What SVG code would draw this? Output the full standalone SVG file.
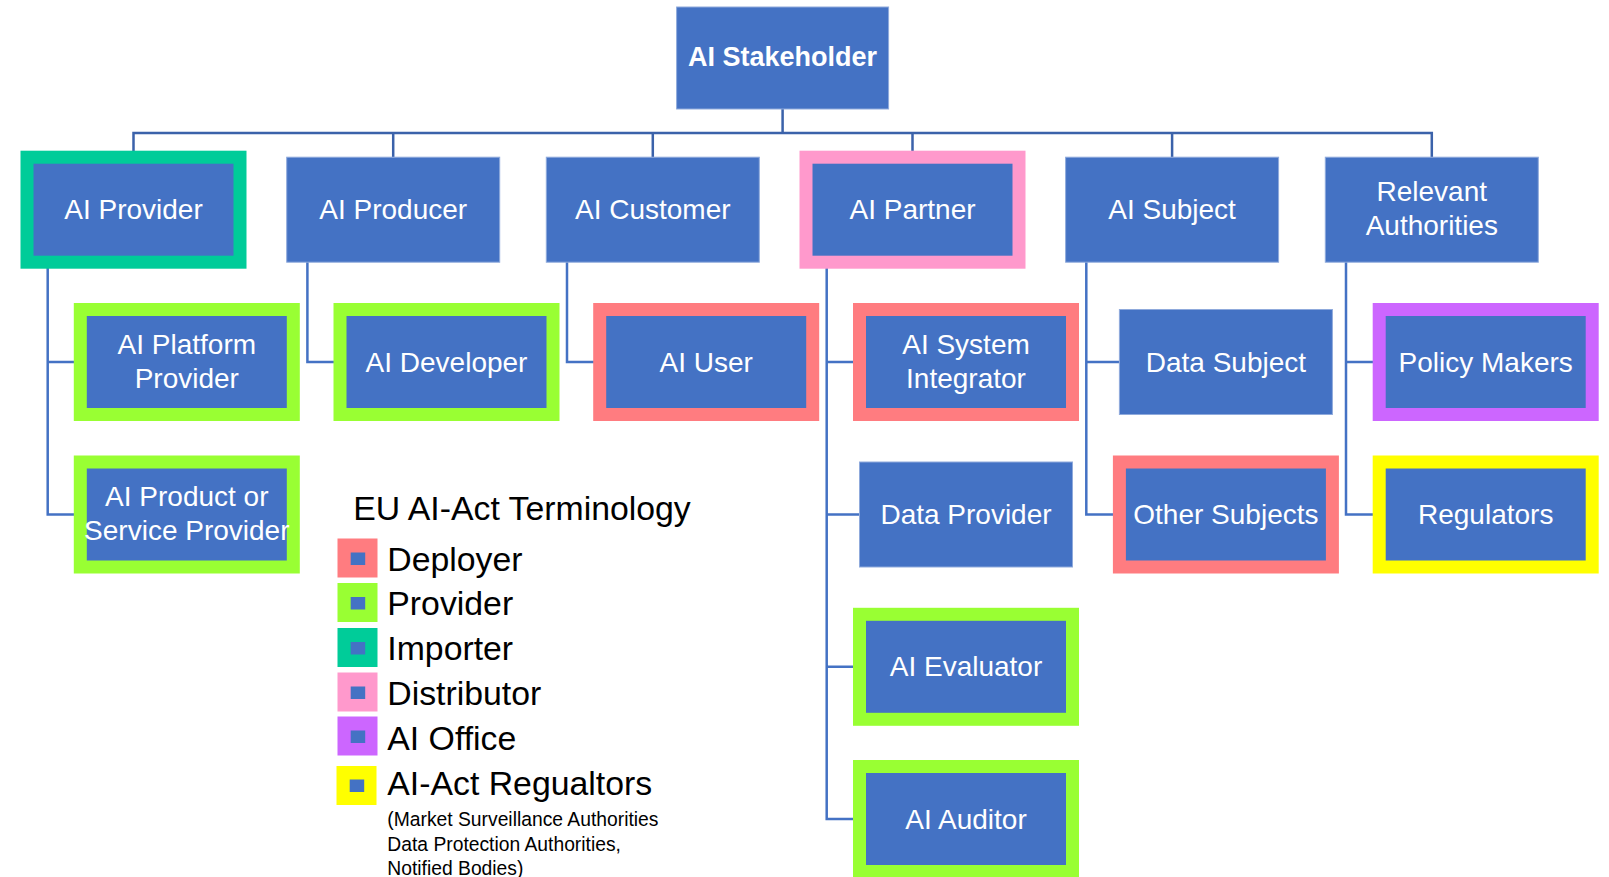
<svg xmlns="http://www.w3.org/2000/svg" width="1609" height="877" viewBox="0 0 1609 877">
  <style>
    .box { fill: #4472C4; stroke: #8FAADC; stroke-width: 1; }
    .rim { fill: #4472C4; stroke-width: 13; }
    .importer { stroke: #00CC99; }
    .provider { stroke: #99FF33; }
    .deployer { stroke: #FF7C80; }
    .distributor { stroke: #FF99CC; }
    .office { stroke: #CC66FF; }
    .regulator { stroke: #FFFF00; }
    .lbl { font-family: "Liberation Sans", Arial, sans-serif; font-size: 28px; fill: #FFFFFF; text-anchor: middle; }
    .root { font-weight: bold; font-size: 27px; }
    .wire { fill: none; stroke: #4472C4; stroke-width: 2.5; }
    .bus { fill: none; stroke: #3B62AA; stroke-width: 2.5; }
    .swin { fill: #4472C4; }
    .key { font-family: "Liberation Sans", Arial, sans-serif; fill: #000000; }
    .keyhead { font-size: 33.8px; }
    .keyitem { font-size: 33.8px; }
    .keynote { font-size: 19.3px; }
  </style>

  <!-- connectors -->
  <g id="connectors">
    <!-- root to top row -->
    <path class="bus" d="M782.6 109 V133 M133.5 157 V133 H1431.8 V157 M393.2 133 V157 M652.8 133 V157 M912.5 133 V157 M1172.1 133 V157"/>
    <!-- AI Provider children -->
    <path class="wire" d="M47.7 262 V514.5 H80.3 M47.7 362 H80.3"/>
    <!-- AI Producer children -->
    <path class="wire" d="M307.4 262 V362 H340"/>
    <!-- AI Customer children -->
    <path class="wire" d="M567 262 V362 H599.7"/>
    <!-- AI Partner children -->
    <path class="wire" d="M826.7 262 V819 H859.5 M826.7 362 H859.5 M826.7 514.5 H859.5 M826.7 666.8 H859.5"/>
    <!-- AI Subject children -->
    <path class="wire" d="M1086.3 262 V514.5 H1119.4 M1086.3 362 H1119.4"/>
    <!-- Relevant Authorities children -->
    <path class="wire" d="M1346 262 V514.5 H1379.2 M1346 362 H1379.2"/>
  </g>

  <!-- root -->
  <g id="ai-stakeholder">
    <rect class="box" x="676.6" y="7" width="212" height="102"/>
    <text class="lbl root" x="782.6" y="66">AI Stakeholder</text>
  </g>

  <!-- top row -->
  <g id="ai-provider">
    <rect class="rim importer" x="27" y="157.2" width="213" height="105"/>
    <text class="lbl" x="133.5" y="219">AI Provider</text>
  </g>
  <g id="ai-producer">
    <rect class="box" x="286.7" y="157.2" width="213" height="105"/>
    <text class="lbl" x="393.2" y="219">AI Producer</text>
  </g>
  <g id="ai-customer">
    <rect class="box" x="546.3" y="157.2" width="213" height="105"/>
    <text class="lbl" x="652.8" y="219">AI Customer</text>
  </g>
  <g id="ai-partner">
    <rect class="rim distributor" x="806" y="157.2" width="213" height="105"/>
    <text class="lbl" x="912.5" y="219">AI Partner</text>
  </g>
  <g id="ai-subject">
    <rect class="box" x="1065.6" y="157.2" width="213" height="105"/>
    <text class="lbl" x="1172.1" y="219">AI Subject</text>
  </g>
  <g id="relevant-authorities">
    <rect class="box" x="1325.3" y="157.2" width="213" height="105"/>
    <text class="lbl" x="1431.8" y="201">Relevant</text>
    <text class="lbl" x="1431.8" y="235">Authorities</text>
  </g>

  <!-- AI Provider branch -->
  <g id="ai-platform-provider">
    <rect class="rim provider" x="80.3" y="309.5" width="213" height="105"/>
    <text class="lbl" x="186.8" y="353.5">AI Platform</text>
    <text class="lbl" x="186.8" y="387.5">Provider</text>
  </g>
  <g id="ai-product-service-provider">
    <rect class="rim provider" x="80.3" y="462" width="213" height="105"/>
    <text class="lbl" x="186.8" y="506">AI Product or</text>
    <text class="lbl" x="186.8" y="540">Service Provider</text>
  </g>

  <!-- AI Producer branch -->
  <g id="ai-developer">
    <rect class="rim provider" x="340" y="309.5" width="213" height="105"/>
    <text class="lbl" x="446.5" y="371.5">AI Developer</text>
  </g>

  <!-- AI Customer branch -->
  <g id="ai-user">
    <rect class="rim deployer" x="599.7" y="309.5" width="213" height="105"/>
    <text class="lbl" x="706.2" y="371.5">AI User</text>
  </g>

  <!-- AI Partner branch -->
  <g id="ai-system-integrator">
    <rect class="rim deployer" x="859.5" y="309.5" width="213" height="105"/>
    <text class="lbl" x="966" y="353.5">AI System</text>
    <text class="lbl" x="966" y="387.5">Integrator</text>
  </g>
  <g id="data-provider">
    <rect class="box" x="859.5" y="462" width="213" height="105"/>
    <text class="lbl" x="966" y="524">Data Provider</text>
  </g>
  <g id="ai-evaluator">
    <rect class="rim provider" x="859.5" y="614.3" width="213" height="105"/>
    <text class="lbl" x="966" y="676.3">AI Evaluator</text>
  </g>
  <g id="ai-auditor">
    <rect class="rim provider" x="859.5" y="766.5" width="213" height="105"/>
    <text class="lbl" x="966" y="828.5">AI Auditor</text>
  </g>

  <!-- AI Subject branch -->
  <g id="data-subject">
    <rect class="box" x="1119.4" y="309.5" width="213" height="105"/>
    <text class="lbl" x="1225.9" y="371.5">Data Subject</text>
  </g>
  <g id="other-subjects">
    <rect class="rim deployer" x="1119.4" y="462" width="213" height="105"/>
    <text class="lbl" x="1225.9" y="524">Other Subjects</text>
  </g>

  <!-- Relevant Authorities branch -->
  <g id="policy-makers">
    <rect class="rim office" x="1379.2" y="309.5" width="213" height="105"/>
    <text class="lbl" x="1485.7" y="371.5">Policy Makers</text>
  </g>
  <g id="regulators">
    <rect class="rim regulator" x="1379.2" y="462" width="213" height="105"/>
    <text class="lbl" x="1485.7" y="524">Regulators</text>
  </g>

  <!-- role key -->
  <g id="legend">
    <text class="key keyhead" x="353.3" y="520">EU AI-Act Terminology</text>

    <rect x="337.5" y="538.5" width="40" height="39" fill="#FF7C80"/>
    <rect class="swin" x="350.7" y="552.5" width="14.5" height="12.5"/>
    <text class="key keyitem" x="387.3" y="570.7">Deployer</text>

    <rect x="337.5" y="583" width="40" height="39" fill="#99FF33"/>
    <rect class="swin" x="350.7" y="597" width="14.5" height="12.5"/>
    <text class="key keyitem" x="387.3" y="615">Provider</text>

    <rect x="337.5" y="628" width="40" height="39" fill="#00CC99"/>
    <rect class="swin" x="350.7" y="642" width="14.5" height="12.5"/>
    <text class="key keyitem" x="387.3" y="660">Importer</text>

    <rect x="337.5" y="672.5" width="40" height="39" fill="#FF99CC"/>
    <rect class="swin" x="350.7" y="686.5" width="14.5" height="12.5"/>
    <text class="key keyitem" x="387.3" y="705">Distributor</text>

    <rect x="337.5" y="716.5" width="40" height="39" fill="#CC66FF"/>
    <rect class="swin" x="350.7" y="730.5" width="14.5" height="12.5"/>
    <text class="key keyitem" x="387.3" y="750">AI Office</text>

    <rect x="336.5" y="766" width="40" height="39" fill="#FFFF00"/>
    <rect class="swin" x="349.7" y="779.5" width="14.5" height="12.5"/>
    <text class="key keyitem" x="387.3" y="795">AI-Act Regualtors</text>

    <text class="key keynote" x="387.3" y="825.7">(Market Surveillance Authorities</text>
    <text class="key keynote" x="387.3" y="850.5">Data Protection Authorities,</text>
    <text class="key keynote" x="387.3" y="874.5">Notified Bodies)</text>
  </g>
</svg>
